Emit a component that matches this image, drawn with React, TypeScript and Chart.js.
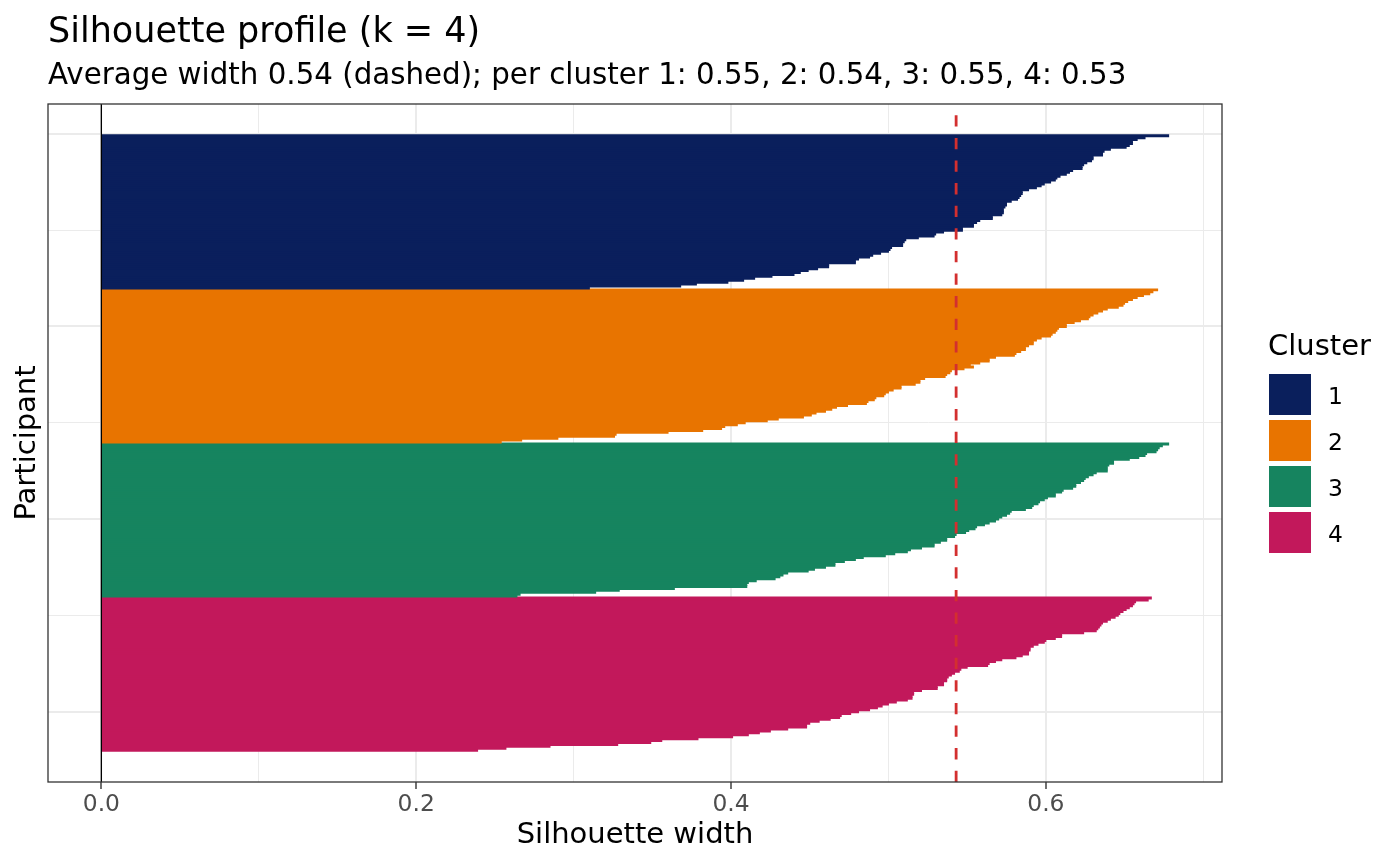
import React, { useEffect, useRef } from "react";
import { Chart, registerables } from "chart.js";

Chart.register(...registerables);

const FONT = "'DejaVu Sans', sans-serif";

const titleText = "Silhouette profile (k = 4)";
const subtitleText =
  "Average width 0.54 (dashed); per cluster 1: 0.55, 2: 0.54, 3: 0.55, 4: 0.53";
const xAxisTitle = "Silhouette width";
const yAxisTitle = "Participant";
const legendTitle = "Cluster";

const clusterNames = ["1", "2", "3", "4"];
const clusterColors = ["#0A1F5C", "#E87400", "#16845F", "#C2185B"];

// silhouette widths per participant, sorted within cluster
const cluster1 = [
  0.678, 0.663, 0.658, 0.655, 0.655, 0.653, 0.651, 0.641, 0.637, 0.636,
  0.636, 0.63, 0.63, 0.629, 0.626, 0.624, 0.623, 0.623, 0.617, 0.615,
  0.613, 0.609, 0.607, 0.606, 0.603, 0.599, 0.597, 0.594, 0.589, 0.585,
  0.585, 0.584, 0.583, 0.582, 0.578, 0.575, 0.575, 0.574, 0.573, 0.573,
  0.573, 0.572, 0.566, 0.566, 0.558, 0.556, 0.554, 0.554, 0.547, 0.547,
  0.535, 0.53, 0.529, 0.519, 0.511, 0.51, 0.509, 0.509, 0.502, 0.501,
  0.5, 0.495, 0.49, 0.488, 0.481, 0.479, 0.479, 0.462, 0.462, 0.455,
  0.449, 0.444, 0.44, 0.426, 0.415, 0.408, 0.398, 0.378, 0.368, 0.31,
];
const cluster2 = [
  0.671, 0.668, 0.666, 0.662, 0.658, 0.655, 0.652, 0.65, 0.649, 0.646,
  0.639, 0.636, 0.633, 0.63, 0.628, 0.627, 0.622, 0.618, 0.613, 0.613,
  0.608, 0.607, 0.606, 0.604, 0.603, 0.597, 0.594, 0.592, 0.592, 0.589,
  0.587, 0.587, 0.584, 0.581, 0.58, 0.568, 0.564, 0.564, 0.558, 0.552,
  0.554, 0.548, 0.54, 0.539, 0.537, 0.536, 0.523, 0.52, 0.52, 0.517,
  0.508, 0.508, 0.503, 0.5, 0.498, 0.497, 0.492, 0.491, 0.487, 0.486,
  0.474, 0.467, 0.464, 0.46, 0.454, 0.451, 0.446, 0.43, 0.423, 0.409,
  0.404, 0.396, 0.394, 0.382, 0.36, 0.327, 0.326, 0.29, 0.267, 0.254,
];
const cluster3 = [
  0.678, 0.674, 0.672, 0.671, 0.67, 0.664, 0.663, 0.659, 0.653, 0.643,
  0.643, 0.64, 0.639, 0.639, 0.639, 0.632, 0.63, 0.627, 0.625, 0.624,
  0.622, 0.619, 0.619, 0.617, 0.611, 0.61, 0.606, 0.606, 0.601, 0.599,
  0.596, 0.595, 0.592, 0.591, 0.587, 0.578, 0.577, 0.575, 0.572, 0.57,
  0.568, 0.564, 0.561, 0.556, 0.555, 0.551, 0.549, 0.543, 0.542, 0.537,
  0.537, 0.533, 0.529, 0.529, 0.521, 0.514, 0.512, 0.504, 0.498, 0.484,
  0.479, 0.472, 0.466, 0.466, 0.46, 0.453, 0.449, 0.436, 0.433, 0.431,
  0.428, 0.416, 0.411, 0.41, 0.41, 0.364, 0.329, 0.314, 0.266, 0.264,
];
const cluster4 = [
  0.667, 0.665, 0.657, 0.656, 0.655, 0.653, 0.651, 0.649, 0.647, 0.646,
  0.644, 0.641, 0.639, 0.636, 0.635, 0.634, 0.633, 0.632, 0.624, 0.61,
  0.61, 0.606, 0.6, 0.599, 0.595, 0.592, 0.59, 0.59, 0.589, 0.589,
  0.585, 0.581, 0.572, 0.568, 0.564, 0.563, 0.55, 0.546, 0.545, 0.542,
  0.54, 0.538, 0.537, 0.537, 0.535, 0.535, 0.531, 0.531, 0.521, 0.516,
  0.516, 0.515, 0.515, 0.512, 0.505, 0.5, 0.496, 0.493, 0.488, 0.481,
  0.476, 0.47, 0.469, 0.463, 0.456, 0.45, 0.448, 0.448, 0.436, 0.425,
  0.418, 0.411, 0.401, 0.379, 0.356, 0.349, 0.328, 0.285, 0.257, 0.239,
];
const clusters = [cluster1, cluster2, cluster3, cluster4];

const averageWidth = 0.543;

const xTicks = [0, 0.1, 0.2, 0.3, 0.4, 0.5, 0.6, 0.7];
const xMajorTicks = [0, 0.2, 0.4, 0.6];
const yTicks = [0, 50, 100, 150, 200, 250, 300];
const yMajorTicks = [0, 100, 200, 300];

const tickVal = (c: any) => (c && c.tick ? Number(c.tick.value) : NaN);
const isMajorX = (v: number) => xMajorTicks.some((m) => Math.abs(m - v) < 1e-6);
const isMajorY = (v: number) => yMajorTicks.includes(v);

const total = clusters.reduce((s, c) => s + c.length, 0);
const maxVal = Math.max(...clusters.flat());
const xExp = maxVal * 0.05;
const yExp = total * 0.05;

const decorPlugin = {
  id: "decor",
  afterDatasetsDraw(chart: any) {
    const { ctx, chartArea, scales } = chart;
    const { left, right, top, bottom } = chartArea;
    ctx.save();
    // zero line
    const x0 = scales.x.getPixelForValue(0);
    ctx.strokeStyle = "#000000";
    ctx.lineWidth = 1.3;
    ctx.beginPath();
    ctx.moveTo(x0, top);
    ctx.lineTo(x0, bottom);
    ctx.stroke();
    // average dashed line
    const xa = scales.x.getPixelForValue(averageWidth);
    ctx.strokeStyle = "#D32F2F";
    ctx.lineWidth = 2.8;
    ctx.setLineDash([11.3, 11.3]);
    ctx.beginPath();
    ctx.moveTo(xa, bottom);
    ctx.lineTo(xa, top);
    ctx.stroke();
    ctx.setLineDash([]);
    // panel border
    ctx.strokeStyle = "#333333";
    ctx.lineWidth = 1.3;
    ctx.strokeRect(left, top, right - left, bottom - top);
    ctx.restore();
  },
  afterDraw(chart: any) {
    const { ctx, chartArea } = chart;
    ctx.save();
    ctx.fillStyle = "#000000";
    ctx.textAlign = "left";
    ctx.textBaseline = "alphabetic";
    ctx.font = `35px ${FONT}`;
    ctx.fillText(titleText, chartArea.left, 42);
    ctx.font = `29.3px ${FONT}`;
    ctx.fillText(subtitleText, chartArea.left, 84);
    // legend
    ctx.font = `29px ${FONT}`;
    ctx.fillText(legendTitle, 1268, 355);
    clusterNames.forEach((name, i) => {
      const y = 374 + i * 46;
      ctx.fillStyle = clusterColors[i];
      ctx.fillRect(1269, y, 42, 41);
      ctx.fillStyle = "#000000";
      ctx.font = `23.4px ${FONT}`;
      ctx.textBaseline = "alphabetic";
      ctx.fillText(name, 1328, y + 29.5);
    });
    ctx.restore();
  },
};

export default function App() {
  const ref = useRef<HTMLCanvasElement | null>(null);

  useEffect(() => {
    document.body.style.margin = "0";
    if (!ref.current) return;
    let offset = 0;
    const datasets = clusters.map((vals, ci) => {
      const data = vals.map((v, i) => ({ x: v, y: offset + i + 1 }));
      offset += vals.length;
      return {
        label: clusterNames[ci],
        data,
        backgroundColor: clusterColors[ci],
        borderWidth: 0,
        barPercentage: 1,
        categoryPercentage: 1,
        grouped: false,
        inflateAmount: 0.5,
      };
    });

    const chart = new Chart(ref.current, {
      type: "bar",
      data: { datasets } as any,
      plugins: [decorPlugin],
      options: {
        indexAxis: "y",
        animation: false,
        responsive: false,
        events: [],
        layout: { padding: { top: 104, right: 178, left: 0, bottom: 0 } },
        plugins: {
          legend: { display: false },
          tooltip: { enabled: false },
          title: { display: false },
        },
        scales: {
          x: {
            type: "linear",
            min: -xExp,
            max: maxVal + xExp,
            offset: false,
            afterBuildTicks: (s: any) => {
              s.ticks = xTicks.map((v) => ({ value: v }));
            },
            afterFit: (s: any) => {
              s.height = 84;
            },
            border: { display: false },
            grid: {
              offset: false,
              color: "#EBEBEB",
              lineWidth: (c: any) => (isMajorX(tickVal(c)) ? 2 : 1),
              drawTicks: true,
              tickLength: 7,
              tickWidth: 1.4,
              tickColor: (c: any) =>
                isMajorX(tickVal(c)) ? "#333333" : "rgba(0,0,0,0)",
            },
            ticks: {
              autoSkip: false,
              maxRotation: 0,
              padding: 2,
              color: "#4D4D4D",
              font: { family: FONT, size: 23.4 },
              callback: (v: any) => (isMajorX(Number(v)) ? Number(v).toFixed(1) : ""),
            },
            title: {
              display: true,
              text: xAxisTitle,
              color: "#000000",
              font: { family: FONT, size: 29, lineHeight: 1 },
              padding: { top: 0, bottom: 16 },
            },
          },
          y: {
            type: "linear",
            reverse: true,
            offset: false,
            min: 0.5 - yExp,
            max: total + 0.5 + yExp,
            afterBuildTicks: (s: any) => {
              s.ticks = yTicks.map((v) => ({ value: v }));
            },
            afterFit: (s: any) => {
              s.width = 48;
            },
            border: { display: false },
            grid: {
              offset: false,
              color: "#EBEBEB",
              lineWidth: (c: any) => (isMajorY(tickVal(c)) ? 2 : 1),
              drawTicks: false,
            },
            ticks: { display: false },
            title: {
              display: true,
              text: yAxisTitle,
              color: "#000000",
              font: { family: FONT, size: 29, lineHeight: 1 },
              padding: { top: 13, bottom: 0 },
            },
          },
        },
      } as any,
    });
    return () => chart.destroy();
  }, []);

  return (
    <div style={{ width: 1400, height: 866, background: "#ffffff" }}>
      <canvas ref={ref} width={1400} height={866} />
    </div>
  );
}
